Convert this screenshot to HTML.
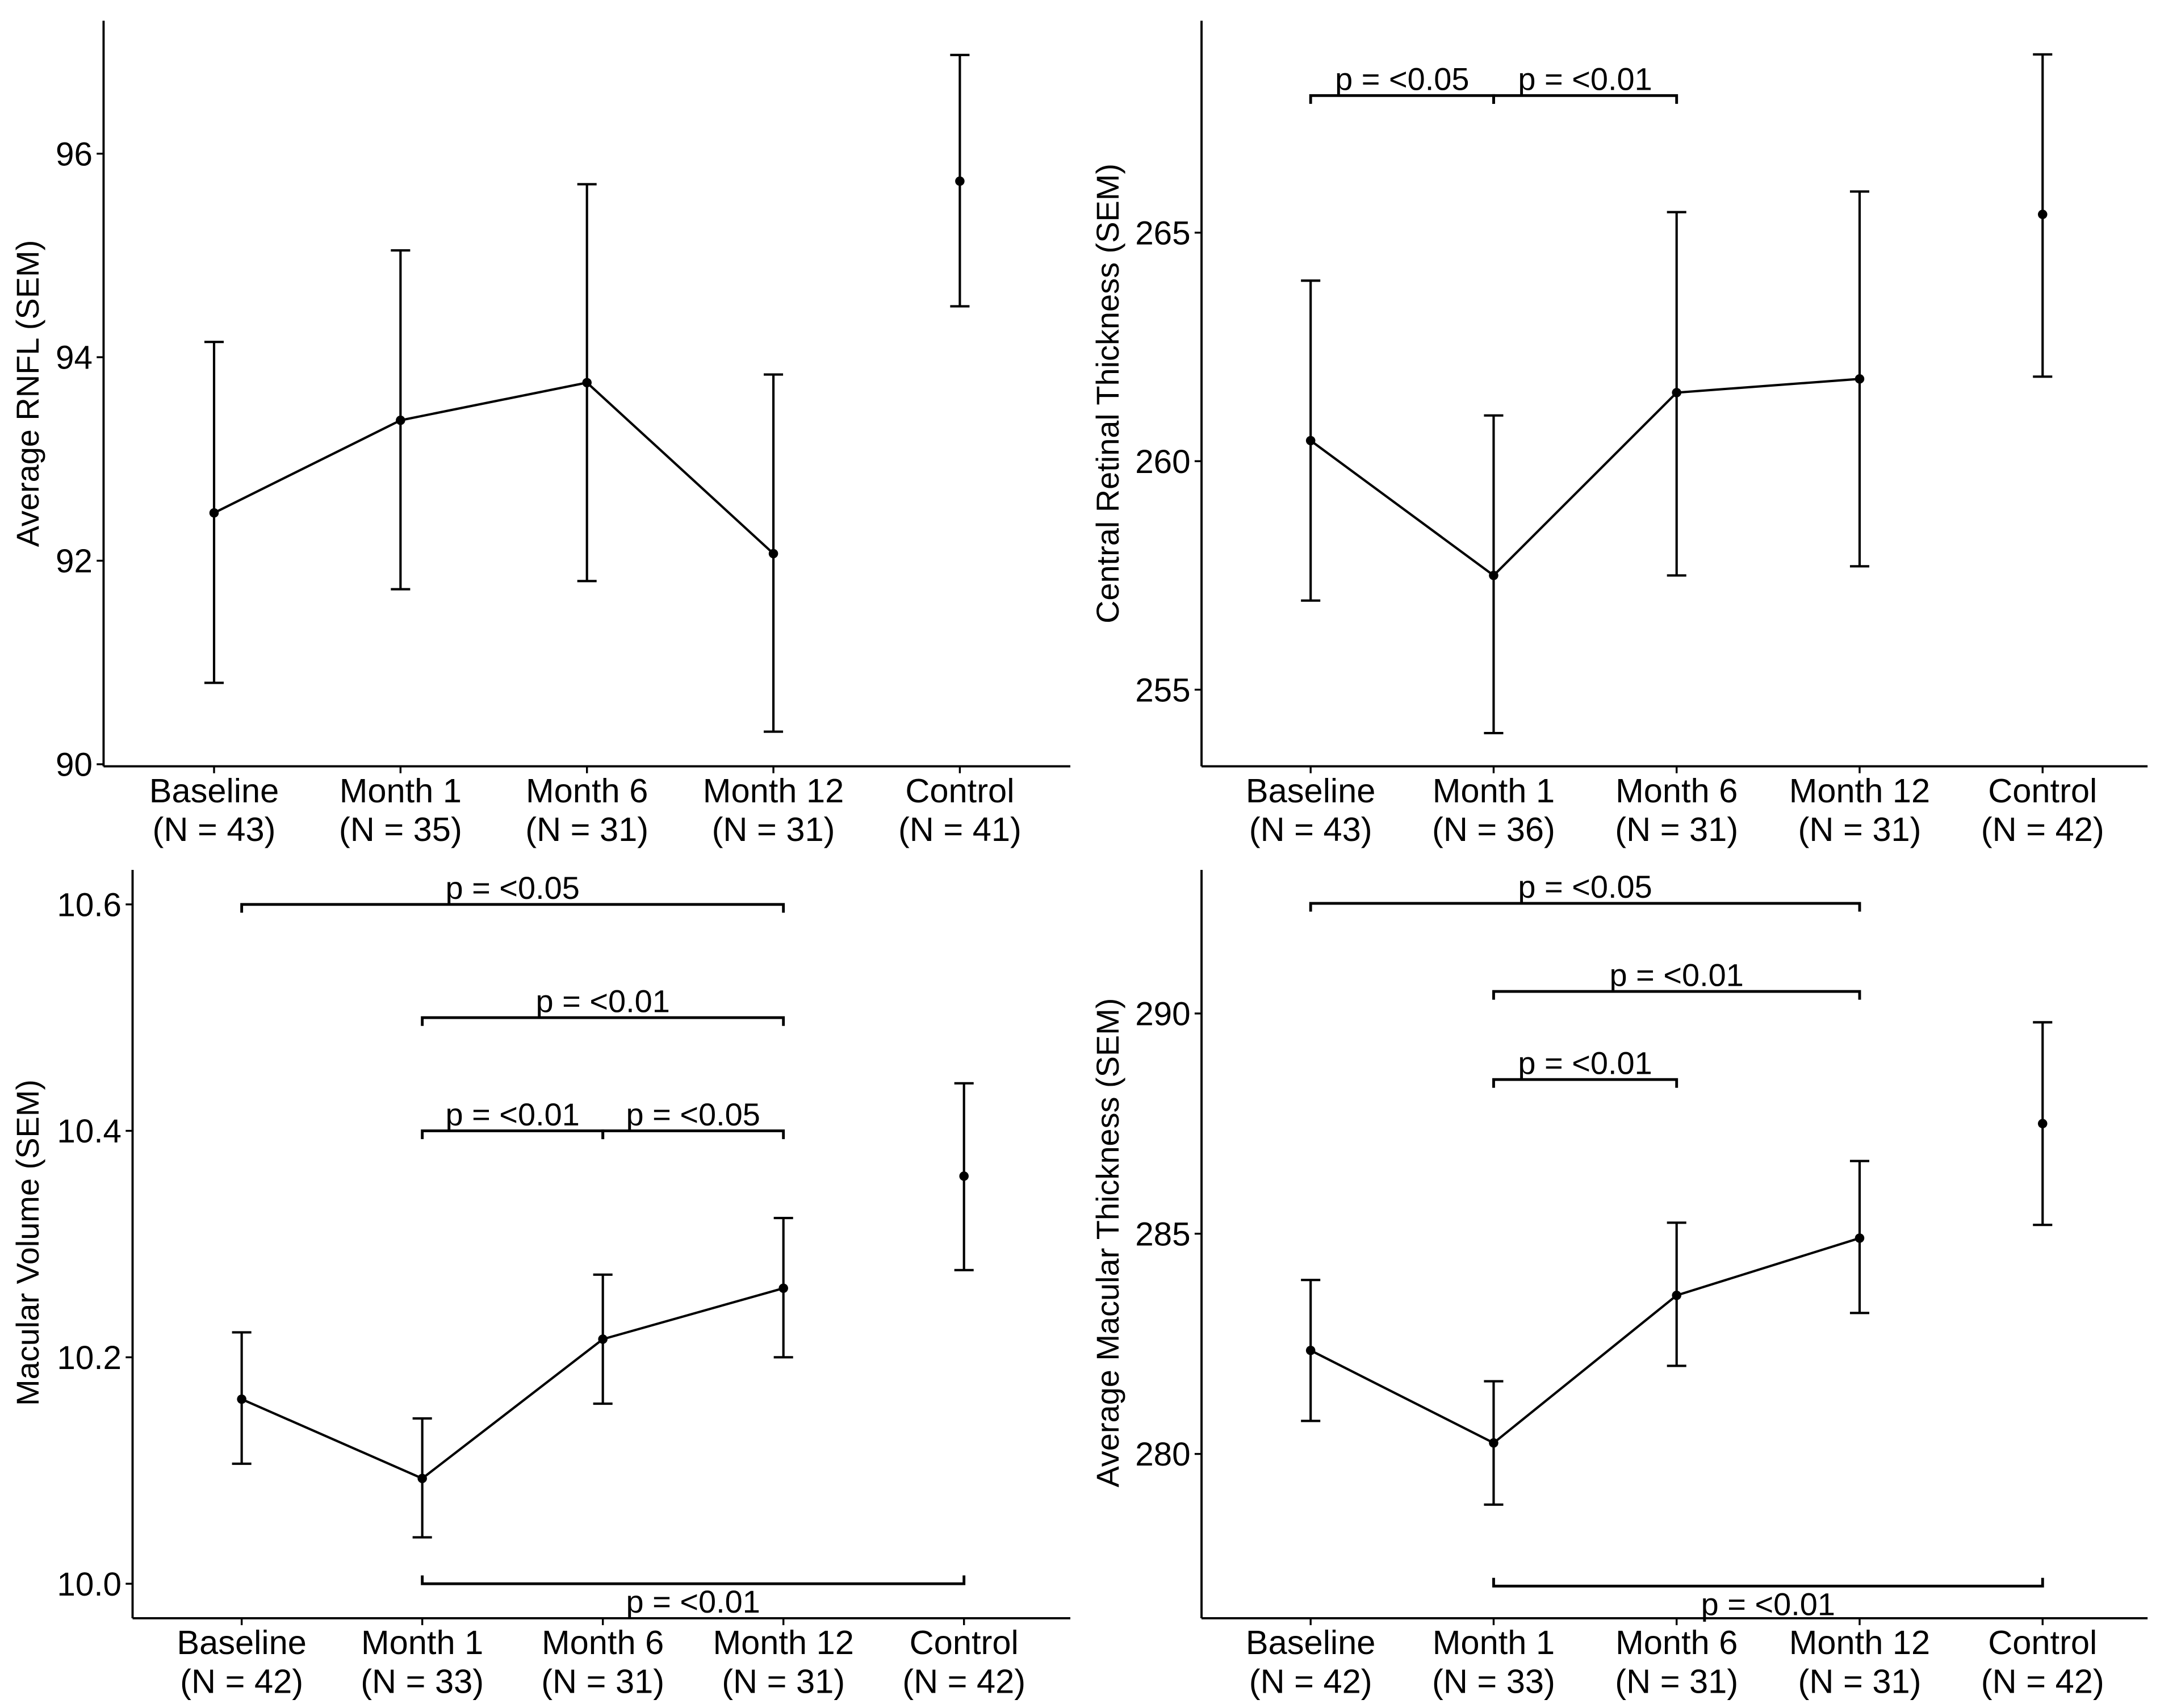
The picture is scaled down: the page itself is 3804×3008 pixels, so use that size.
<!DOCTYPE html>
<html><head><meta charset="utf-8">
<style>
html,body{margin:0;padding:0;background:#fff;}
svg{display:block;}
text{font-family:"Liberation Sans",Arial,sans-serif;fill:#000;}
</style></head>
<body>
<svg id="chart" width="3804" height="3008" viewBox="0 0 1564 1237" preserveAspectRatio="none" xmlns="http://www.w3.org/2000/svg"></svg>
<script>
// ---- data ----
const categories = ["Baseline","Month 1","Month 6","Month 12","Control"];
const rnflN = [43,35,31,31,41];
const rnflMean = [92.47,93.38,93.75,92.07,95.73];
const rnflLo = [90.8,91.72,91.8,90.32,94.5];
const rnflHi = [94.15,95.05,95.7,93.83,96.97];
const rnflTicks = [90,92,94,96];

const crtN = [43,36,31,31,42];
const crtMean = [260.45,257.5,261.5,261.8,265.4];
const crtLo = [256.95,254.05,257.5,257.7,261.85];
const crtHi = [263.95,261.0,265.45,265.9,268.9];
const crtTicks = [255,260,265];

const mvN = [42,33,31,31,42];
const mvMean = [10.163,10.093,10.216,10.261,10.36];
const mvLo = [10.106,10.041,10.159,10.2,10.277];
const mvHi = [10.222,10.146,10.273,10.323,10.442];
const mvTicks = [10.0,10.2,10.4,10.6];

const amtN = [42,33,31,31,42];
const amtMean = [282.35,280.25,283.6,284.9,287.5];
const amtLo = [280.75,278.85,282.0,283.2,285.2];
const amtHi = [283.95,281.65,285.25,286.65,289.8];
const amtTicks = [280,285,290];

// brackets: [fromIndex, toIndex, yValue, label, below]
const crtBrackets = [[0,1,268.0,"p = <0.05",0],[1,2,268.0,"p = <0.01",0]];
const mvBrackets = [[0,3,10.6,"p = <0.05",0],[1,3,10.5,"p = <0.01",0],[1,2,10.4,"p = <0.01",0],[2,3,10.4,"p = <0.05",0],[1,4,10.0,"p = <0.01",1]];
const amtBrackets = [[0,3,292.5,"p = <0.05",0],[1,3,290.5,"p = <0.01",0],[1,2,288.5,"p = <0.01",0],[1,4,277.0,"p = <0.01",1]];

const svg = document.getElementById('chart');
const NS = "http://www.w3.org/2000/svg";
function mk(tag, attrs, parent){
  const e = document.createElementNS(NS, tag);
  for (const k in attrs) e.setAttribute(k, attrs[k]);
  (parent||svg).appendChild(e);
  return e;
}

function panel(cfg){
  const g = mk('g', {});
  
  
  const x = i => cfg.x0 + i * cfg.dx;
  const y = v => cfg.yRef + (v - cfg.vRef) * cfg.pxPerUnit;
  let a = mk('line', {x1:cfg.axX, y1:cfg.top, x2:cfg.axX, y2:cfg.axY, stroke:'#000','stroke-width':1.6}, g);
  
  
  a = mk('line', {x1:cfg.axX, y1:cfg.axY, x2:cfg.right, y2:cfg.axY, stroke:'#000','stroke-width':1.6}, g);
  
  
  cfg.ticks.forEach(t => {
    const yy = y(t);
    const tl = mk('line', {x1:cfg.axX-5, y1:yy, x2:cfg.axX, y2:yy, stroke:'#000','stroke-width':1.4}, g);
    
    
    const tx = mk('text', {x:cfg.axX-8, y:yy+8.5, 'text-anchor':'end','font-size':24}, g);
    tx.textContent = cfg.tickFmt(t);
    
    
  });
  categories.forEach((c,i) => {
    const xx = x(i);
    const tl = mk('line', {x1:xx, y1:cfg.axY, x2:xx, y2:cfg.axY+5, stroke:'#000','stroke-width':1.4}, g);
    
    
    const t1 = mk('text', {x:xx, y:cfg.axY+26, 'text-anchor':'middle','font-size':24.5}, g);
    t1.textContent = c;
    
    
    const t2 = mk('text', {x:xx, y:cfg.axY+54, 'text-anchor':'middle','font-size':24.5}, g);
    t2.textContent = "(N = " + cfg.n[i] + ")";
    
    
  });
  const tt = mk('text', {x:0, y:0, 'text-anchor':'middle','font-size':23, transform:`translate(${cfg.titleX},${cfg.titleY}) rotate(-90)`}, g);
  tt.textContent = cfg.title;
  
  
  let pts = [];
  for (let i=0;i<4;i++) pts.push(x(i)+','+y(cfg.mean[i]));
  const pl = mk('polyline', {points:pts.join(' '), fill:'none', stroke:'#000','stroke-width':1.7}, g);
  
  
  cfg.mean.forEach((m,i) => {
    const xx = x(i);
    const eb = mk('path', {d:`M${xx-7},${y(cfg.hi[i])}H${xx+7}M${xx},${y(cfg.hi[i])}V${y(cfg.lo[i])}M${xx-7},${y(cfg.lo[i])}H${xx+7}`, fill:'none', stroke:'#000','stroke-width':1.7}, g);
    
    
    const p = mk('circle', {cx:xx, cy:y(m), r:3.4, fill:'#000'}, g);
    
    
  });
  (cfg.brackets||[]).forEach(b => {
    const x1 = x(b[0]), x2 = x(b[1]), yy = y(b[2]);
    const d = b[4] ? -6 : 6;
    const br = mk('path', {d:`M${x1},${yy+d}V${yy}H${x2}V${yy+d}`, fill:'none', stroke:'#000','stroke-width':2}, g);
    
    
    const tx = mk('text', {x:(x1+x2)/2, y: b[4] ? yy+21 : yy-4, 'text-anchor':'middle','font-size':23}, g);
    tx.textContent = b[3];
    
    
  });
}

panel({name:'panel-rnfl', x0:155, dx:135, axX:75, axY:555, top:15, right:775,
  yRef:553.5, vRef:90, pxPerUnit:-73.7, ticks:rnflTicks, tickFmt:t=>String(t),
  n:rnflN, mean:rnflMean, lo:rnflLo, hi:rnflHi, title:'Average RNFL (SEM)', titleX:28, titleY:285});
panel({name:'panel-central-retinal-thickness', x0:949, dx:132.5, axX:870, axY:555, top:15, right:1555,
  yRef:334, vRef:260, pxPerUnit:-33.1, ticks:crtTicks, tickFmt:t=>String(t),
  n:crtN, mean:crtMean, lo:crtLo, hi:crtHi, brackets:crtBrackets, title:'Central Retinal Thickness (SEM)', titleX:810, titleY:285});
panel({name:'panel-macular-volume', x0:175, dx:130.75, axX:96, axY:1172, top:630, right:775,
  yRef:1147, vRef:10.0, pxPerUnit:-820, ticks:mvTicks, tickFmt:t=>t.toFixed(1),
  n:mvN, mean:mvMean, lo:mvLo, hi:mvHi, brackets:mvBrackets, title:'Macular Volume (SEM)', titleX:28, titleY:900});
panel({name:'panel-average-macular-thickness', x0:949, dx:132.5, axX:870, axY:1172, top:630, right:1555,
  yRef:1053, vRef:280, pxPerUnit:-31.9, ticks:amtTicks, tickFmt:t=>String(t),
  n:amtN, mean:amtMean, lo:amtLo, hi:amtHi, brackets:amtBrackets, title:'Average Macular Thickness (SEM)', titleX:810, titleY:900});
</script>
</body></html>
